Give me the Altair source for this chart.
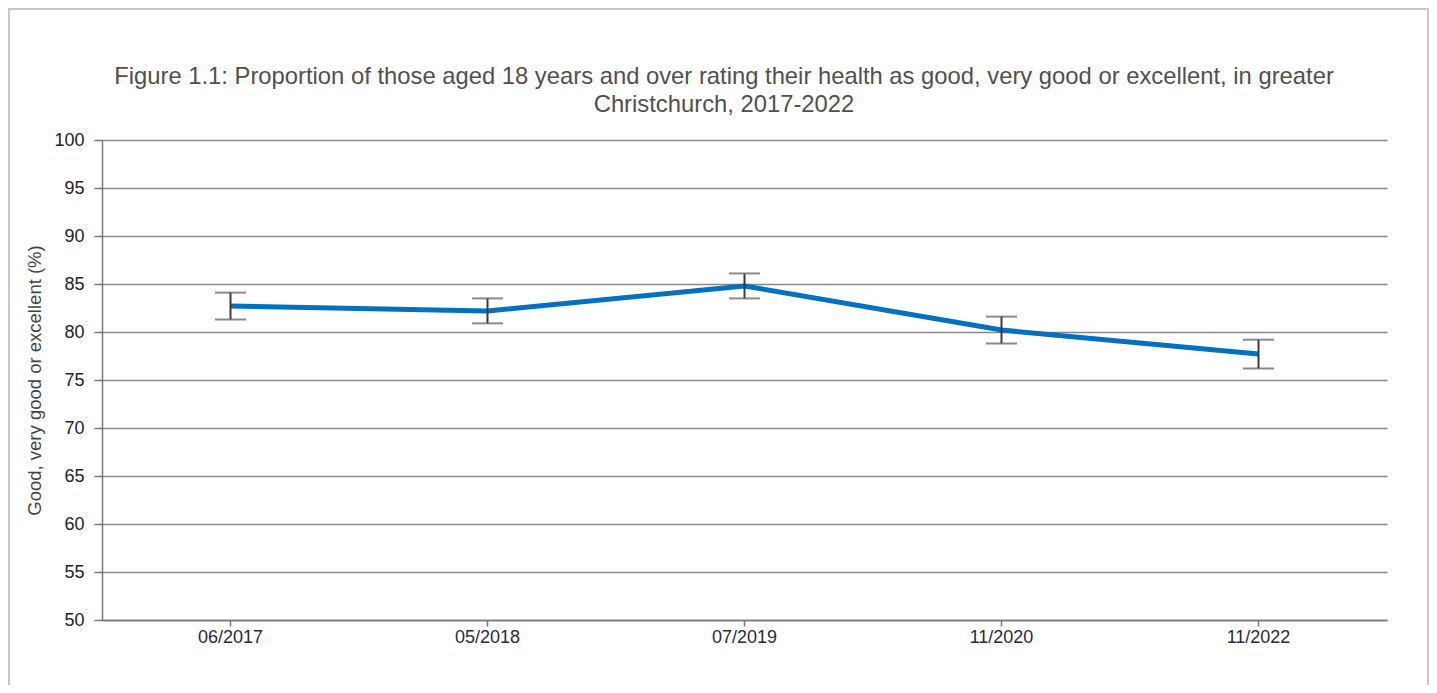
import altair as alt
import pandas as pd

periods = ["06/2017", "05/2018", "07/2019", "11/2020", "11/2022"]
values = [82.7, 82.2, 84.8, 80.2, 77.7]
lower = [81.3, 80.9, 83.5, 78.8, 76.2]
upper = [84.1, 83.5, 86.1, 81.6, 79.2]
y_ticks = [50, 55, 60, 65, 70, 75, 80, 85, 90, 95, 100]
title_lines = [
    "Figure 1.1: Proportion of those aged 18 years and over rating their health as good, very good or excellent, in greater",
    "Christchurch, 2017-2022",
]

df = pd.DataFrame({"period": periods, "value": values, "lower": lower, "upper": upper})

W, H = 1285, 480
PAD = {"left": 94, "top": 132, "right": 42, "bottom": 65}

x = alt.X("period:N", sort=periods, title=None,
          scale=alt.Scale(paddingInner=1, paddingOuter=0.5),
          axis=alt.Axis(labelAngle=0, labelFont="Liberation Sans", labelFontSize=18,
                        labelColor="#2a2a3a", labelPadding=2, tickSize=6, tickColor="#777",
                        tickWidth=1.5, domainColor="#777", domainWidth=1.5, grid=False))
y_scale = alt.Scale(domain=[50, 100], nice=False, zero=False)

base = alt.Chart(df)

line = base.mark_line(color="#0070C0", strokeWidth=5).encode(
    x=x,
    y=alt.Y("value:Q", scale=y_scale, title="Good, very good or excellent (%)",
            axis=alt.Axis(values=y_ticks, labelFont="Liberation Sans", labelFontSize=18,
                          labelColor="#222", labelPadding=10, tickSize=8, tickColor="#777",
                          tickWidth=1.5, domainColor="#777", domainWidth=1.5,
                          gridColor="#888", gridWidth=1.5, titleFont="Liberation Sans",
                          titleFontSize=18.5, titleFontWeight="normal", titleColor="#444",
                          titlePadding=9)),
)

rule = base.mark_rule(color="#3a3a3a", strokeWidth=2).encode(
    x=alt.X("period:N", sort=periods),
    y=alt.Y("lower:Q", scale=y_scale),
    y2="upper:Q",
)
cap_lo = base.mark_tick(color="#5a5a5a", size=31, thickness=2, orient="horizontal").encode(
    x=alt.X("period:N", sort=periods), y=alt.Y("lower:Q", scale=y_scale))
cap_hi = base.mark_tick(color="#5a5a5a", size=31, thickness=2, orient="horizontal").encode(
    x=alt.X("period:N", sort=periods), y=alt.Y("upper:Q", scale=y_scale))

title_df = pd.DataFrame({"t": title_lines})
title1 = alt.Chart(title_df).transform_filter(alt.datum.t == title_lines[0]).mark_text(
    font="Liberation Sans", fontSize=23.8, color="#505050", align="center", baseline="middle").encode(
    text="t:N", x=alt.value(622), y=alt.value(-63))
title2 = alt.Chart(title_df).transform_filter(alt.datum.t == title_lines[1]).mark_text(
    font="Liberation Sans", fontSize=23.8, color="#505050", align="center", baseline="middle").encode(
    text="t:N", x=alt.value(622), y=alt.value(-35))

frame = alt.Chart(pd.DataFrame({"a": [0]})).mark_rect(
    fill=None, stroke="#c8c8c8", strokeWidth=2).encode(
    x=alt.value(-93), x2=alt.value(W + 41), y=alt.value(-131), y2=alt.value(H + 120))

chart = alt.layer(line, rule, cap_lo, cap_hi, title1, title2, frame).properties(
    width=W, height=H,
    autosize=alt.AutoSizeParams(type="none"),
    padding=PAD,
).configure_view(stroke=None).configure_axis(labelFontWeight="normal")

chart.save("out.html", embed_options={"renderer": "svg", "actions": False})
